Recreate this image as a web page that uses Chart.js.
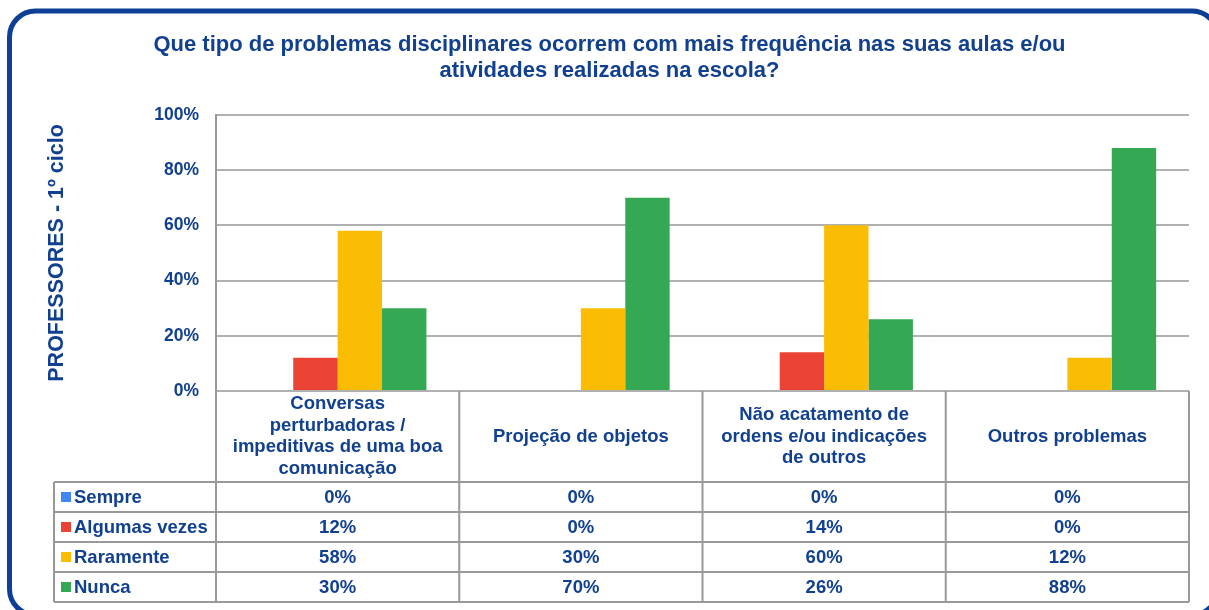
<!DOCTYPE html>
<html lang="pt">
<head>
<meta charset="utf-8">
<title>Problemas disciplinares</title>
<script src="https://cdn.jsdelivr.net/npm/chart.js@4.4.1/dist/chart.umd.min.js"></script>
<style>
  html, body { margin: 0; padding: 0; background: #fff; }
  #wrap { width: 1209px; height: 610px; position: relative; }
</style>
</head>
<body>
<div id="wrap"><canvas id="chart"></canvas></div>
<script>
const titleLines = [
  'Que tipo de problemas disciplinares ocorrem com mais frequência nas suas aulas e/ou',
  'atividades realizadas na escola?',
];
const axisTitle = 'PROFESSORES - 1º ciclo';

const categories = [
  'Conversas perturbadoras / impeditivas de uma boa comunicação',
  'Projeção de objetos',
  'Não acatamento de ordens e/ou indicações de outros',
  'Outros problemas',
];
const categoryLines = [
  ['Conversas', 'perturbadoras /', 'impeditivas de uma boa', 'comunicação'],
  ['Projeção de objetos'],
  ['Não acatamento de', 'ordens e/ou indicações', 'de outros'],
  ['Outros problemas'],
];

const seriesNames = ['Sempre', 'Algumas vezes', 'Raramente', 'Nunca'];
const seriesColors = ['#4285f4', '#ea4335', '#fbbc04', '#34a853'];
const sempre = [0, 0, 0, 0];
const algumasVezes = [12, 0, 14, 0];
const raramente = [58, 30, 60, 12];
const nunca = [30, 70, 26, 88];
const seriesValues = [sempre, algumasVezes, raramente, nunca];

const yTicks = [0, 20, 40, 60, 80, 100];

const textColor = '#10408f';
const gridColor = '#b0b0b0';
const tableLineColor = '#999999';
const fontFamily = '"Liberation Sans", Arial, sans-serif';

// rounded frame around the whole chart (runs past the right and bottom edges)
const framePlugin = {
  id: 'frame',
  beforeDraw(chart) {
    const { ctx } = chart;
    ctx.save();
    ctx.strokeStyle = '#0d3f96';
    ctx.lineWidth = 5;
    ctx.beginPath();
    ctx.roundRect(9.5, 11, 1208.5, 604, 26);
    ctx.stroke();
    ctx.restore();
  },
};

// data table under the plot area (Excel style)
const dataTablePlugin = {
  id: 'dataTable',
  afterDraw(chart) {
    const { ctx, chartArea, scales } = chart;
    const xScale = scales.x;
    const colW = (chartArea.right - chartArea.left) / categories.length;
    const top = chartArea.bottom;
    const headerH = 91;
    const rowH = 30;
    const legendLeft = 54;
    const tableBottom = top + headerH + rowH * seriesNames.length;

    ctx.save();
    ctx.strokeStyle = tableLineColor;
    ctx.lineWidth = 2;

    ctx.beginPath();
    for (let i = 0; i <= categories.length; i++) {
      const x = chartArea.left + i * colW;
      ctx.moveTo(x, top);
      ctx.lineTo(x, tableBottom);
    }
    ctx.moveTo(legendLeft, top + headerH);
    ctx.lineTo(legendLeft, tableBottom);
    for (let r = 0; r <= seriesNames.length; r++) {
      const y = top + headerH + r * rowH;
      ctx.moveTo(legendLeft, y);
      ctx.lineTo(chartArea.right, y);
    }
    ctx.stroke();

    ctx.fillStyle = textColor;
    ctx.font = `bold 18.5px ${fontFamily}`;
    ctx.textAlign = 'center';
    ctx.textBaseline = 'middle';

    const lineH = 21.5;
    categoryLines.forEach((lines, i) => {
      const cx = xScale.getPixelForValue(i);
      const cy = top + headerH / 2;
      const startY = cy - ((lines.length - 1) * lineH) / 2;
      lines.forEach((line, j) => {
        ctx.fillText(line, cx, startY + j * lineH);
      });
    });

    seriesNames.forEach((name, r) => {
      const cy = top + headerH + r * rowH + rowH / 2;
      ctx.fillStyle = seriesColors[r];
      ctx.fillRect(legendLeft + 7, cy - 5, 10, 10);
      ctx.fillStyle = textColor;
      ctx.textAlign = 'left';
      ctx.fillText(name, legendLeft + 20, cy + 1);
      ctx.textAlign = 'center';
      seriesValues[r].forEach((value, i) => {
        ctx.fillText(`${value}%`, xScale.getPixelForValue(i), cy + 1);
      });
    });
    ctx.restore();
  },
};

const chart = new Chart(document.getElementById('chart'), {
  type: 'bar',
  data: {
    labels: categories,
    datasets: seriesNames.map((name, i) => ({
      label: name,
      data: seriesValues[i],
      backgroundColor: seriesColors[i],
      borderWidth: 0,
      categoryPercentage: 0.73,
      barPercentage: 1,
    })),
  },
  options: {
    responsive: true,
    maintainAspectRatio: false,
    animation: false,
    layout: {
      padding: { left: 30, right: 20, top: 0, bottom: 219 },
    },
    plugins: {
      legend: { display: false },
      tooltip: { enabled: false },
      title: {
        display: true,
        text: titleLines,
        color: textColor,
        font: { family: fontFamily, size: 22, weight: 'bold', lineHeight: 1.18 },
        padding: { top: 32, bottom: 31 },
      },
    },
    scales: {
      x: {
        display: false,
      },
      y: {
        min: 0,
        max: 100,
        afterBuildTicks(scale) {
          scale.ticks = yTicks.map((value) => ({ value }));
        },
        afterFit(scale) {
          scale.width = 186;
        },
        grid: { color: gridColor, lineWidth: 2, drawTicks: false },
        border: { display: true, color: tableLineColor, width: 2 },
        ticks: {
          color: textColor,
          padding: 17,
          font: { family: fontFamily, size: 17.5, weight: 'bold' },
          callback: (value) => `${value}%`,
        },
        title: {
          display: true,
          text: axisTitle,
          color: textColor,
          font: { family: fontFamily, size: 21.5, weight: 'bold', lineHeight: 1.2 },
          padding: { top: 14, bottom: 0 },
        },
      },
    },
  },
  plugins: [framePlugin, dataTablePlugin],
});
</script>
</body>
</html>
